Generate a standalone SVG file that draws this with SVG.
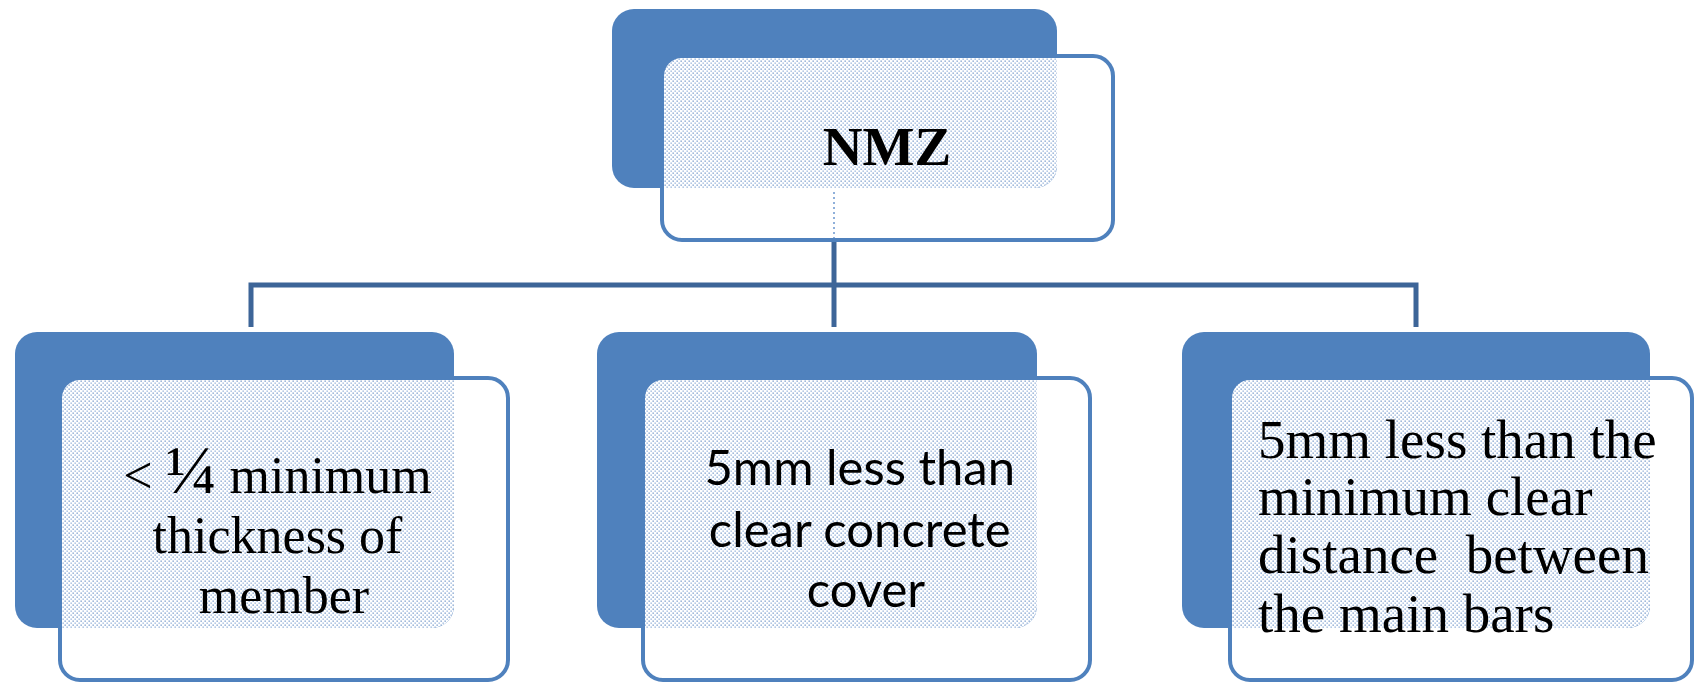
<svg xmlns="http://www.w3.org/2000/svg" width="1695" height="682" viewBox="0 0 1695 682">
<style>
.back{fill:#4f81bd}
.front{fill:#fff;stroke:#4f81bd;stroke-width:4}
.dots{fill:url(#dotpat)}
.conn{fill:none;stroke:#3d6598;stroke-width:5}
.serif{font-family:"Liberation Serif","Times New Roman",serif;fill:#000}
.sans{font-family:Lato,"Open Sans",sans-serif;fill:#000}
</style>
<defs>
<pattern id="dotpat" width="4" height="4" patternUnits="userSpaceOnUse">
<rect width="4" height="4" fill="#fff"/>
<rect x="0.5" y="0.5" width="1.3" height="1.3" fill="#6f95c8"/>
<rect x="2.5" y="2.5" width="1.3" height="1.3" fill="#8eadd8"/>
</pattern>
<clipPath id="cTop"><rect x="612" y="9" width="445" height="179" rx="22"/></clipPath>
<clipPath id="cL"><rect x="15" y="332" width="439" height="296" rx="22"/></clipPath>
<clipPath id="cM"><rect x="597" y="332" width="440" height="296" rx="22"/></clipPath>
<clipPath id="cR"><rect x="1182" y="332" width="468" height="296" rx="22"/></clipPath>
</defs>

<g id="connectors">
<path class="conn" d="M251 327 V285 H1416 V327"/>
<path class="conn" d="M834 241 V327"/>
</g>

<g id="node-nmz">
<rect class="front" x="662" y="56" width="451" height="184" rx="20"/>
<rect class="back" x="612" y="9" width="445" height="179" rx="22"/>
<rect class="dots" x="664" y="58" width="447" height="180" rx="18" clip-path="url(#cTop)"/>
<line x1="834" y1="192" x2="834" y2="238" stroke="#8fb0da" stroke-width="2" stroke-dasharray="2 3"/>
<text class="serif" x="887" y="165" font-size="55" font-weight="bold" text-anchor="middle">NMZ</text>
</g>

<g id="node-left">
<rect class="front" x="60" y="378" width="448" height="302" rx="20"/>
<rect class="back" x="15" y="332" width="439" height="296" rx="22"/>
<rect class="dots" x="62" y="380" width="444" height="298" rx="18" clip-path="url(#cL)"/>
<text class="serif" font-size="52" text-anchor="middle">
<tspan x="284" y="493">&lt; <tspan font-size="68">¼</tspan> minimum</tspan>
<tspan x="284" y="553">thickness of</tspan>
<tspan x="284" y="613">member</tspan>
</text>
</g>

<g id="node-middle">
<rect class="front" x="643" y="378" width="447" height="302" rx="20"/>
<rect class="back" x="597" y="332" width="440" height="296" rx="22"/>
<rect class="dots" x="645" y="380" width="443" height="298" rx="18" clip-path="url(#cM)"/>
<text class="sans" font-size="49" text-anchor="middle">
<tspan x="866" y="485">5mm less than</tspan>
<tspan x="866" y="547">clear concrete</tspan>
<tspan x="866" y="607">cover</tspan>
</text>
</g>

<g id="node-right">
<rect class="front" x="1230" y="378" width="462" height="302" rx="20"/>
<rect class="back" x="1182" y="332" width="468" height="296" rx="22"/>
<rect class="dots" x="1232" y="380" width="458" height="298" rx="18" clip-path="url(#cR)"/>
<text class="serif" font-size="55" xml:space="preserve" style="white-space:pre">
<tspan x="1258" y="458">5mm less than the</tspan>
<tspan x="1258" y="515">minimum clear</tspan>
<tspan x="1258" y="573">distance  between</tspan>
<tspan x="1258" y="632">the main bars</tspan>
</text>
</g>
</svg>
